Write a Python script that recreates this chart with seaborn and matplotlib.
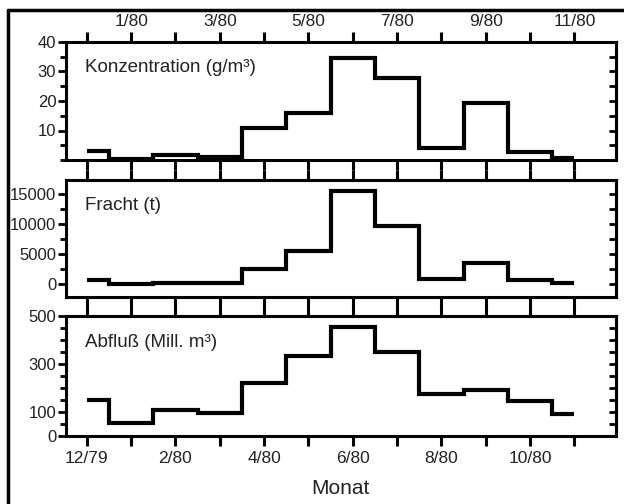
import matplotlib
matplotlib.use("Agg")
import matplotlib.pyplot as plt
from matplotlib.ticker import MultipleLocator
from matplotlib.lines import Line2D
import seaborn as sns

# ---------------------------------------------------------
# DATEN
# ---------------------------------------------------------

monate = ['12/79', '1/80', '2/80', '3/80', '4/80', '5/80',
          '6/80', '7/80', '8/80', '9/80', '10/80', '11/80']

konzentration = [3.0, 0.4, 1.7, 1.0, 11.0, 16.0, 34.5, 27.8, 4.2, 19.4, 2.7, 0.6]
fracht = [550, 0, 50, 80, 2500, 5450, 15600, 9750, 850, 3500, 550, 150]
abfluss = [148, 55, 108, 97, 221, 335, 454, 349, 176, 191, 145, 93]

x = list(range(len(monate)))

# ---------------------------------------------------------
# STIL
# ---------------------------------------------------------

sns.set_style('ticks')
plt.rcParams['font.family'] = ['Liberation Sans', 'DejaVu Sans']
plt.rcParams['text.color'] = '#222222'
plt.rcParams['xtick.color'] = 'black'
plt.rcParams['ytick.color'] = 'black'
plt.rcParams['xtick.labelcolor'] = '#222222'
plt.rcParams['ytick.labelcolor'] = '#222222'

fig = plt.figure(figsize=(6.24, 5.04), dpi=100)

W, H = 624, 504
left = 66 / W
width = 550 / W

panels = [
    # (bottom px, top px, daten, ylim, major, minor, yticks, titel)
    (160, 42, konzentration, (0, 40), 10, 5, [10, 20, 30, 40], 'Konzentration (g/m³)'),
    (297, 180, fracht, (-2250, 17400), 5000, 2500, [0, 5000, 10000, 15000], 'Fracht (t)'),
    (436, 316, abfluss, (0, 500), 100, 50, [0, 100, 300, 500], 'Abfluß (Mill. m³)'),
]

axes = []
for i, (bpx, tpx, werte, ylim, major, minor, yticks, titel) in enumerate(panels):
    ax = fig.add_axes([left, 1 - bpx / H, width, (bpx - tpx) / H])

    sns.lineplot(
        x=x,
        y=werte,
        ax=ax,
        color='black',
        lw=3,
        drawstyle='steps-mid',
        solid_joinstyle='miter',
        solid_capstyle='butt'
    )

    ax.set_xlim(-0.47, 11.94)
    ax.set_ylim(*ylim)

    for s in ax.spines.values():
        s.set_visible(True)
        s.set_linewidth(2.2)
        s.set_color('black')

    # y-Achse links
    ax.set_yticks(yticks)
    ax.set_yticklabels([str(v) for v in yticks], fontsize=12)
    ax.yaxis.set_minor_locator(MultipleLocator(minor))
    ax.tick_params(axis='y', which='major', direction='out', length=6, width=2, pad=1)
    ax.tick_params(axis='y', which='minor', direction='out', length=4, width=2)

    # y-Achse rechts (Ticks nach innen)
    sec = ax.secondary_yaxis('right')
    sec.set_yticks([v for v in range(int(ylim[0] // minor * minor), int(ylim[1]) + 1, minor)
                    if ylim[0] < v < ylim[1]])
    sec.set_yticklabels([])
    sec.tick_params(axis='y', direction='in', length=5, width=2)
    sec.spines['right'].set_linewidth(2.2)

    # x-Achse
    ax.set_xticks(x)
    ax.tick_params(axis='x', which='both', direction='out', length=7, width=2.2,
                   top=True, bottom=True, labeltop=False, labelbottom=False, labelsize=12.5)

    if i == 0:
        ax.set_xticklabels([m if j % 2 == 1 else '' for j, m in enumerate(monate)])
        ax.tick_params(axis='x', labeltop=True, pad=2)
    elif i == 2:
        ax.set_xticklabels([m if j % 2 == 0 else '' for j, m in enumerate(monate)])
        ax.tick_params(axis='x', labelbottom=True, pad=4)

    ax.set_xlabel('')
    ax.set_ylabel('')

    ax.text(0.035, 0.78, titel, transform=ax.transAxes, fontsize=13.5,
            ha='left', va='center')

    axes.append(ax)

fig.text(340 / W, 1 - 488 / H, 'Monat', fontsize=15, ha='center', va='center')

# Rahmen
fig.add_artist(Line2D([8 / W, 8 / W], [-0.1, 1 - 10 / H], color='black', lw=2.5,
                      transform=fig.transFigure))
fig.add_artist(Line2D([8 / W, 1.1], [1 - 10 / H, 1 - 10 / H], color='black', lw=2.5,
                      transform=fig.transFigure))

fig.savefig('out.png', dpi=100)
